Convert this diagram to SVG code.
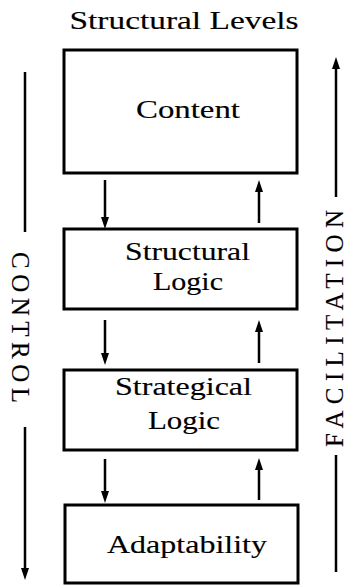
<svg xmlns="http://www.w3.org/2000/svg" width="350" height="586" viewBox="0 0 350 586">
<style>
.box{fill:#fff;stroke:#000;stroke-width:3}
.t{font-family:"Liberation Serif","Times New Roman",serif;font-size:26px;fill:#000;stroke:#000;stroke-width:0.15;text-anchor:middle}
.side{font-family:"Liberation Serif","Times New Roman",serif;font-size:25px;fill:#000;stroke:#000;stroke-width:0.15;text-anchor:middle}
.ln{stroke:#000;stroke-width:2.5;fill:none}
</style>
<defs>
<marker id="ah" markerUnits="userSpaceOnUse" viewBox="0 0 12 8" refX="4" refY="4" markerWidth="12" markerHeight="8" orient="auto">
<path d="M0,0 L12,4 L0,8 Z" fill="#000"/>
</marker>
</defs>
<text class="t" x="184" y="29" textLength="229" lengthAdjust="spacingAndGlyphs">Structural  Levels</text>
<g id="content">
<rect class="box" x="64" y="50" width="233" height="123"/>
<text class="t" x="188" y="118" textLength="104" lengthAdjust="spacingAndGlyphs">Content</text>
</g>
<g id="structural-logic">
<rect class="box" x="64" y="229" width="233" height="80"/>
<text class="t" x="187.5" y="260" textLength="125" lengthAdjust="spacingAndGlyphs">Structural</text>
<text class="t" x="188" y="290" textLength="70" lengthAdjust="spacingAndGlyphs">Logic</text>
</g>
<g id="strategical-logic">
<rect class="box" x="64" y="370" width="233" height="80"/>
<text class="t" x="183.5" y="395" textLength="137" lengthAdjust="spacingAndGlyphs">Strategical</text>
<text class="t" x="184" y="429" textLength="72" lengthAdjust="spacingAndGlyphs">Logic</text>
</g>
<g id="adaptability">
<rect class="box" x="65" y="505" width="233" height="78"/>
<text class="t" x="187" y="553" textLength="160" lengthAdjust="spacingAndGlyphs">Adaptability</text>
</g>
<g id="control">
<line class="ln" x1="25" y1="72" x2="25" y2="232"/>
<text class="side" transform="translate(20,327.5) rotate(90)" x="0" y="8" textLength="151" lengthAdjust="spacing">CONTROL</text>
<line class="ln" x1="25" y1="427" x2="25" y2="572" marker-end="url(#ah)"/>
</g>
<g id="facilitation">
<line class="ln" x1="336" y1="197" x2="336" y2="65" marker-end="url(#ah)"/>
<text class="side" transform="translate(336,328.5) rotate(-90)" x="0" y="7" textLength="237" lengthAdjust="spacing">FACILITATION</text>
<line class="ln" x1="336" y1="455" x2="336" y2="572"/>
</g>
<g id="connectors">
<line class="ln" x1="105" y1="180" x2="105" y2="221" marker-end="url(#ah)"/>
<line class="ln" x1="105" y1="320" x2="105" y2="357" marker-end="url(#ah)"/>
<line class="ln" x1="105" y1="459" x2="105" y2="495" marker-end="url(#ah)"/>
<line class="ln" x1="259" y1="223" x2="259" y2="188" marker-end="url(#ah)"/>
<line class="ln" x1="259" y1="363" x2="259" y2="328" marker-end="url(#ah)"/>
<line class="ln" x1="259" y1="500" x2="259" y2="466" marker-end="url(#ah)"/>
</g>
</svg>
